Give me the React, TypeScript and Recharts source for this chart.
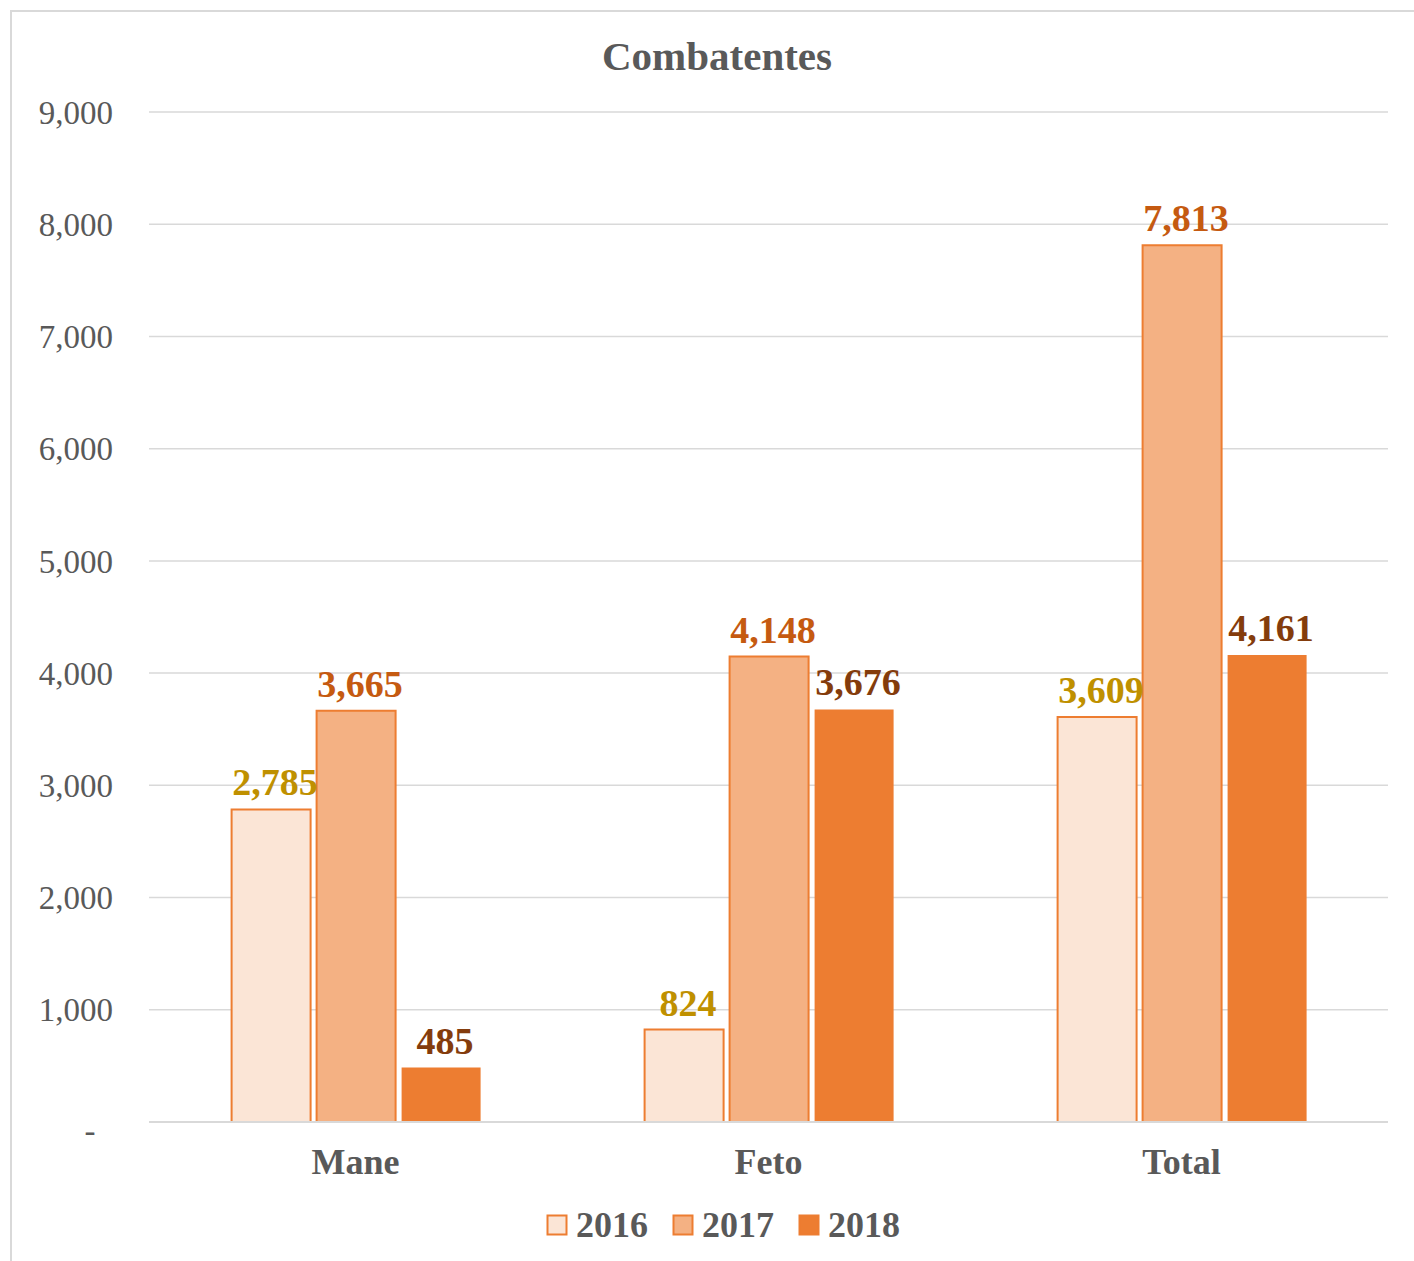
import { BarChart, Bar, XAxis, YAxis, CartesianGrid, Legend, LabelList } from 'recharts'

const categories = ['Mane', 'Feto', 'Total']
const values2016 = [2785, 824, 3609]
const values2017 = [3665, 4148, 7813]
const values2018 = [485, 3676, 4161]
const yTicks = [0, 1000, 2000, 3000, 4000, 5000, 6000, 7000, 8000, 9000]

const data = categories.map((name, i) => ({
    name,
    y2016: values2016[i],
    y2017: values2017[i],
    y2018: values2018[i],
}))

const FONT = '"Liberation Serif", "Times New Roman", serif'
const GREY = '#595959'

const series = [
    { key: 'y2016', label: '2016', fill: '#FBE5D6', stroke: '#ED7D31', text: '#BF9000' },
    { key: 'y2017', label: '2017', fill: '#F4B183', stroke: '#ED7D31', text: '#C55A11' },
    { key: 'y2018', label: '2018', fill: '#ED7D31', stroke: 'none', text: '#843C0C' },
]

const fmt = (v: number) => v.toLocaleString('en-US')

function YTick({ x, y, payload }: any) {
    if (payload.value === 0) {
        return (
            <text x={90} y={y} dy='0.6em' textAnchor='middle' fill={GREY} fontSize={33} fontFamily={FONT}>
                -
            </text>
        )
    }
    return (
        <text x={x} y={y} dy='0.355em' textAnchor='end' fill={GREY} fontSize={33} fontFamily={FONT}>
            {fmt(payload.value)}
        </text>
    )
}

function LegendContent() {
    return (
        <div style={{ display: 'flex', justifyContent: 'center', alignItems: 'center', height: 50, fontFamily: FONT }}>
            {series.map((s) => (
                <div key={s.key} style={{ display: 'flex', alignItems: 'center', margin: '0 12px' }}>
                    <svg width={22} height={22} style={{ marginRight: 8 }}>
                        <rect x={1.5} y={1.5} width={19} height={19} fill={s.fill} stroke='#ED7D31' strokeWidth={2} />
                    </svg>
                    <span style={{ fontSize: 36, fontWeight: 'bold', color: GREY }}>{s.label}</span>
                </div>
            ))}
        </div>
    )
}

export default function App() {
    return (
        <div style={{ position: 'absolute', left: 0, top: 0, width: 1414, height: 1261, overflow: 'hidden', background: '#fff' }}>
            <div style={{ position: 'absolute', left: 10, top: 10, width: 1440, height: 1300, border: '2px solid #d9d9d9' }} />
            <div
                style={{
                    position: 'absolute',
                    left: 0,
                    width: 1434,
                    top: 32,
                    textAlign: 'center',
                    fontFamily: FONT,
                    fontSize: 41,
                    fontWeight: 'bold',
                    color: GREY,
                }}
            >
                Combatentes
            </div>
            <BarChart
                width={1414}
                height={1261}
                data={data}
                margin={{ top: 112, right: 26, bottom: 11, left: 0 }}
                barCategoryGap='20%'
                barGap={6}
            >
                <CartesianGrid vertical={false} stroke='#d9d9d9' strokeWidth={1.5} />
                <XAxis
                    dataKey='name'
                    height={78}
                    axisLine={{ stroke: '#d9d9d9', strokeWidth: 2 }}
                    tickLine={false}
                    tickSize={0}
                    tickMargin={26}
                    tick={{ fill: GREY, fontSize: 36, fontWeight: 'bold', fontFamily: FONT }}
                />
                <YAxis
                    width={149}
                    domain={[0, 9000]}
                    ticks={yTicks}
                    axisLine={false}
                    tickLine={false}
                    tickSize={0}
                    tickMargin={36}
                    tick={<YTick />}
                />
                <Legend
                    verticalAlign='bottom'
                    content={<LegendContent />}
                    wrapperStyle={{ left: 0, width: 1446, height: 50 }}
                />
                {series.map((s) => (
                    <Bar
                        key={s.key}
                        dataKey={s.key}
                        name={s.label}
                        fill={s.fill}
                        stroke={s.stroke}
                        strokeWidth={2}
                        isAnimationActive={false}
                    >
                        <LabelList
                            dataKey={s.key}
                            position='top'
                            offset={14}
                            dx={4}
                            formatter={(v: any) => fmt(Number(v))}
                            fill={s.text}
                            fontSize={38}
                            fontWeight='bold'
                            fontFamily={FONT}
                        />
                    </Bar>
                ))}
            </BarChart>
        </div>
    )
}
